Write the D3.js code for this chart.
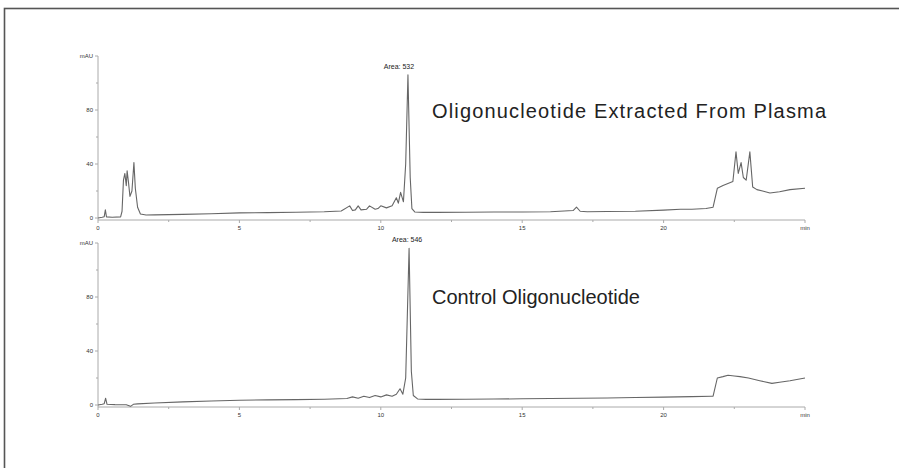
<!DOCTYPE html>
<html><head><meta charset="utf-8">
<script src="https://cdn.jsdelivr.net/npm/d3@7"></script>
<style>html,body{margin:0;padding:0;background:#fff;}svg{display:block;}</style>
</head><body>
<svg id="c" width="899" height="468"></svg>
<script>
// ---- data ----
const xTicks = [0, 5, 10, 15, 20];
const xTickLabels = ["0", "5", "10", "15", "20", "min"];
const xMinorTicks = [2.5, 7.5, 12.5, 17.5, 22.5];
const yTicks = [0, 40, 80];
const yTickLabels = ["0", "40", "80", "mAU"];
const yMinorTicks = [20, 60, 100];
const panelTitles = ["Oligonucleotide Extracted From Plasma", "Control Oligonucleotide"];
const peakLabels = ["Area: 532", "Area: 546"];
const peakTimes = [10.96, 11.0];
const peakValues = [106, 116];

const plasmaTime = [0, 0.15, 0.22, 0.26, 0.3, 0.5, 0.8, 0.85, 0.9, 0.95, 1.0, 1.03, 1.08, 1.13, 1.2, 1.27, 1.32, 1.4, 1.5, 1.7, 2.0, 3, 4, 5, 6, 7, 8, 8.6, 8.9, 9.0, 9.1, 9.2, 9.3, 9.5, 9.6, 9.8, 9.9, 10.0, 10.2, 10.4, 10.55, 10.62, 10.7, 10.8, 10.88, 10.96, 11.04, 11.1, 11.2, 11.5, 12, 13, 14, 15, 16, 16.8, 16.92, 17.05, 17.3, 18, 19, 20, 20.6, 21, 21.5, 21.75, 21.9, 22.1, 22.45, 22.56, 22.64, 22.74, 22.82, 22.92, 23.05, 23.15, 23.3, 23.5, 23.76, 24.1, 24.47, 25];
const plasmaSignal = [0, 0.5, 1, 6, 0.8, 0.5, 0.8, 5, 28, 33, 24, 35, 26, 16, 20, 41, 22, 8, 3, 2.2, 2.3, 2.7, 3.2, 3.8, 4.0, 4.3, 4.6, 5.2, 9, 5.5, 6, 9, 6, 6.5, 9, 6.5, 7, 9, 7.5, 9, 15, 11, 19, 12, 40, 106, 30, 7, 4.5, 4.2, 4.2, 4.3, 4.4, 4.5, 4.6, 5.5, 8, 5, 4.6, 4.8, 5, 5.8, 6.5, 6.5, 7, 8, 22, 24, 27, 49, 33, 41, 30, 28, 49, 23, 21, 20, 18.5, 19.5, 21, 22];

const controlTime = [0, 0.15, 0.22, 0.27, 0.32, 0.6, 1.0, 1.15, 1.25, 1.4, 2, 3, 4, 5, 6, 7, 8, 8.8, 9.0, 9.2, 9.4, 9.6, 9.8, 10.0, 10.2, 10.4, 10.55, 10.68, 10.78, 10.88, 11.0, 11.08, 11.15, 11.3, 11.6, 12, 13, 14, 15, 16, 17, 18, 19, 20, 21, 21.7, 21.75, 21.9, 22.1, 22.28, 22.5, 22.7, 23.0, 23.4, 23.83, 24.1, 24.47, 25];
const controlSignal = [0, 0.5, 1, 5, 0.5, 0.3, 0.2, -1, 0.5, 0.8, 1.5, 2.3, 3, 3.5, 3.8, 4, 4.3, 4.8, 6, 5, 6.5, 5.5, 7, 6, 7.5, 6.5, 8, 12, 8, 20, 116, 25, 7, 4.5, 4.2, 4.2, 4.3, 4.4, 4.6, 4.8, 5, 5.2, 5.5, 5.8, 6.2, 6.5, 6.5, 20, 21, 22, 21.5, 21, 20, 18, 16, 16.8, 18, 20];

const panels = [
  {time: plasmaTime, signal: plasmaSignal},
  {time: controlTime, signal: controlSignal}
];

// ---- layout ----
const svg = d3.select("#c");
svg.append("rect").attr("x", 4.5).attr("y", 8.5).attr("width", 1000).attr("height", 1000)
  .attr("fill", "#fff").attr("stroke", "#555").attr("stroke-width", 1.6);

const x = d3.scaleLinear().domain([0, 25]).range([98, 805]);
const zeroY = [218, 405];
const lineColor = "#666";
const axisColor = "#aaa";
const fontFam = "'Liberation Sans', Arial, Helvetica, sans-serif";

panels.forEach((p, i) => {
  const y = d3.scaleLinear().domain([0, 120]).range([zeroY[i], zeroY[i] - 162]);
  const g = svg.append("g");
  const axisY = zeroY[i] + 2;

  // y axis
  g.append("line").attr("x1", x(0)).attr("x2", x(0)).attr("y1", axisY).attr("y2", y(120))
    .attr("stroke", axisColor).attr("stroke-width", 1);
  yTicks.concat([120]).forEach((v, k) => {
    g.append("line").attr("x1", x(0) - 3).attr("x2", x(0)).attr("y1", y(v)).attr("y2", y(v))
      .attr("stroke", axisColor);
    g.append("text").attr("x", x(0) - 5).attr("y", y(v) + 2).attr("text-anchor", "end")
      .attr("font-family", fontFam).attr("font-size", 6).attr("fill", "#333")
      .text(yTickLabels[k]);
  });
  yMinorTicks.forEach(v => {
    g.append("line").attr("x1", x(0) - 2).attr("x2", x(0)).attr("y1", y(v)).attr("y2", y(v))
      .attr("stroke", axisColor);
  });

  // x axis
  g.append("line").attr("x1", x(0)).attr("x2", x(25)).attr("y1", axisY).attr("y2", axisY)
    .attr("stroke", axisColor).attr("stroke-width", 1);
  xTicks.concat([25]).forEach((v, k) => {
    g.append("line").attr("x1", x(v)).attr("x2", x(v)).attr("y1", axisY).attr("y2", axisY + 3)
      .attr("stroke", axisColor);
    g.append("text").attr("x", x(v)).attr("y", axisY + 10).attr("text-anchor", "middle")
      .attr("font-family", fontFam).attr("font-size", 6).attr("fill", "#333")
      .text(xTickLabels[k]);
  });
  xMinorTicks.forEach(v => {
    g.append("line").attr("x1", x(v)).attr("x2", x(v)).attr("y1", axisY).attr("y2", axisY + 2)
      .attr("stroke", axisColor);
  });

  // trace
  const line = d3.line().x((d, j) => x(p.time[j])).y(d => y(d));
  g.append("path").datum(p.signal).attr("d", line).attr("fill", "none")
    .attr("stroke", lineColor).attr("stroke-width", 1.1).attr("stroke-linejoin", "round");

  // peak label
  g.append("text").attr("x", x(peakTimes[i]) + (i === 0 ? -9 : -2)).attr("y", y(peakValues[i]) - 6)
    .attr("text-anchor", "middle").attr("font-family", fontFam).attr("font-size", 7)
    .attr("fill", "#222").text(peakLabels[i]);

  // panel title
  const t = g.append("text").attr("x", 432).attr("y", i === 0 ? 118 : 304)
    .attr("font-family", fontFam).attr("font-size", 20).attr("fill", "#222")
    .text(panelTitles[i]);
  if (i === 0) t.attr("textLength", 394).attr("lengthAdjust", "spacing");
});
</script>
</body></html>
